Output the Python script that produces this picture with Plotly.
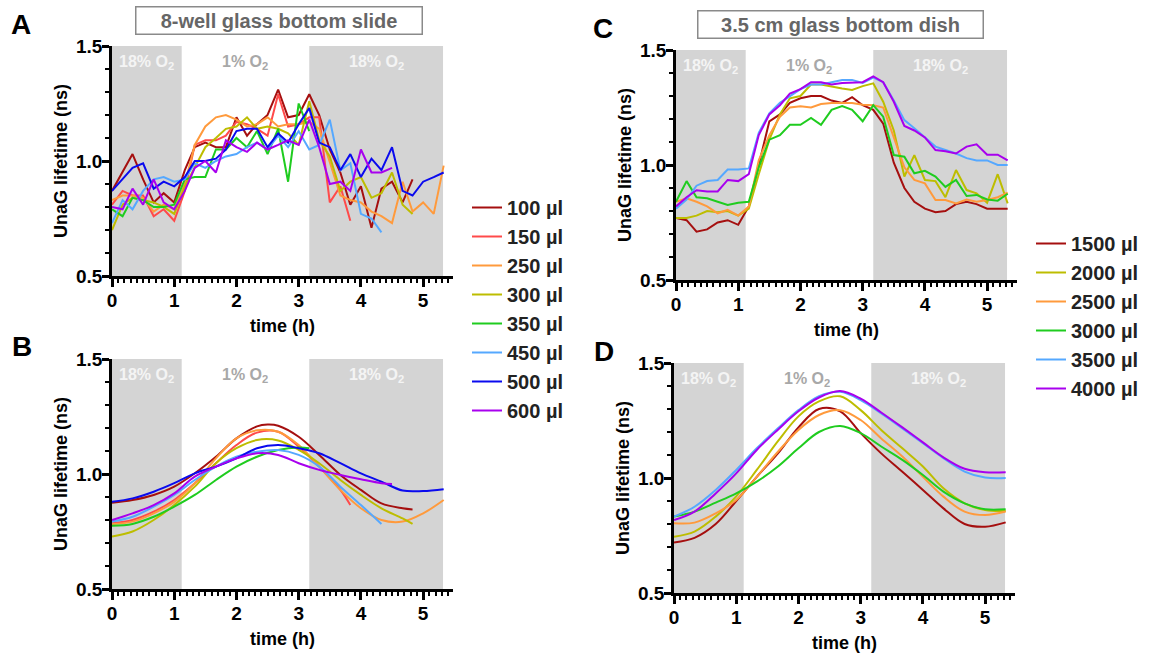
import plotly.graph_objects as go

# ---------------- data ----------------
time_10min = [0.00, 0.17, 0.33, 0.50, 0.67, 0.83, 1.00, 1.17, 1.33, 1.50, 1.67, 1.83,
              2.00, 2.17, 2.33, 2.50, 2.67, 2.83, 3.00, 3.17, 3.33, 3.50, 3.67, 3.83,
              4.00, 4.17, 4.33, 4.50, 4.67, 4.83, 5.00, 5.17, 5.33]

labels_A = ["100 µl", "150 µl", "250 µl", "300 µl", "350 µl", "450 µl", "500 µl", "600 µl"]
colors_A = ["#a50f0f", "#ff4a4a", "#ff9a3c", "#bdbd00", "#1fcc1f", "#55a8ff", "#0a0aee", "#a800ee"]

A_100 = [0.87, 0.95, 1.03, 0.92, 0.82, 0.86, 0.82, 0.96, 1.06, 1.08, 1.06, 1.06, 1.19, 1.11, 1.16,
         1.20, 1.31, 1.19, 1.20, 1.29, 1.20, 1.05, 0.95, 0.81, 0.89, 0.71, 0.88, 0.91, 0.82, 0.92]
A_150 = [0.81, 0.87, 0.85, 0.85, 0.76, 0.79, 0.74, 0.87, 1.07, 1.09, 1.09, 1.11, 1.17, 1.16, 1.14,
         1.11, 1.29, 1.15, 1.16, 1.19, 1.19, 0.82, 0.89, 0.74]
A_250 = [0.83, 0.85, 0.85, 0.84, 0.78, 0.81, 0.79, 0.90, 1.07, 1.15, 1.19, 1.20, 1.18, 1.15, 1.16,
         1.19, 1.15, 1.16, 1.16, 1.17, 1.14, 1.00, 0.85, 0.83, 0.82, 0.78, 0.76, 0.73, 0.91, 0.78,
         0.82, 0.77, 0.98]
A_300 = [0.70, 0.81, 0.84, 0.83, 0.82, 0.80, 0.77, 0.89, 0.97, 1.06, 1.10, 1.14, 1.15, 1.19, 1.14,
         1.15, 1.14, 1.12, 1.07, 1.26, 1.09, 1.02, 0.87, 0.91, 0.93, 0.84, 0.86, 0.95, 0.81, 0.77]
A_350 = [0.79, 0.76, 0.84, 0.83, 0.80, 0.80, 0.81, 0.92, 0.93, 0.93, 1.05, 1.05, 1.10, 1.06, 1.13,
         1.03, 1.14, 0.91, 1.25, 1.13]
A_450 = [0.73, 0.83, 0.79, 0.87, 0.92, 0.93, 0.91, 0.92, 0.99, 0.97, 1.00, 1.02, 1.03, 1.06, 1.08,
         1.05, 1.11, 1.06, 1.13, 1.05, 1.07, 1.18, 0.96, 0.99, 0.77, 0.75, 0.69]
A_500 = [0.87, 0.92, 0.97, 0.99, 0.88, 0.91, 0.89, 0.93, 1.00, 1.00, 1.01, 1.05, 1.13, 1.14, 1.14,
         1.06, 1.12, 1.08, 1.16, 1.23, 1.08, 1.06, 0.96, 1.03, 0.93, 1.01, 0.96, 1.06, 0.87, 0.85,
         0.91, 0.93, 0.95]
A_600 = [0.80, 0.79, 0.88, 0.81, 0.92, 0.82, 0.79, 0.87, 0.97, 1.00, 0.95, 1.09, 1.06, 1.04, 1.08,
         1.05, 1.07, 1.09, 1.07, 1.18, 1.06, 0.90, 0.91, 0.87, 1.05, 0.95, 0.95, 0.97]

# B: smoothed curves (time, value)
B_100_t = [0, 0.33, 0.67, 1.0, 1.33, 1.67, 2.0, 2.33, 2.5, 2.67, 3.0, 3.33, 3.67, 4.0, 4.33, 4.67, 4.83]
B_100 = [0.875, 0.887, 0.909, 0.945, 1.003, 1.075, 1.155, 1.207, 1.215, 1.21, 1.162, 1.083, 0.996,
         0.931, 0.872, 0.851, 0.846]
B_150_t = [0, 0.33, 0.67, 1.0, 1.33, 1.67, 2.0, 2.33, 2.67, 3.0, 3.33, 3.67, 3.83]
B_150 = [0.786, 0.80, 0.836, 0.887, 0.96, 1.047, 1.126, 1.18, 1.184, 1.119, 1.032, 0.931, 0.865]
B_250_t = [0, 0.33, 0.67, 1.0, 1.33, 1.67, 2.0, 2.33, 2.67, 3.0, 3.33, 3.67, 4.0, 4.33, 4.67, 5.0, 5.33]
B_250 = [0.783, 0.793, 0.829, 0.879, 0.96, 1.068, 1.155, 1.19, 1.184, 1.126, 1.032, 0.931, 0.851,
         0.80, 0.793, 0.829, 0.887]
B_300_t = [0, 0.33, 0.67, 1.0, 1.33, 1.67, 2.0, 2.33, 2.67, 3.0, 3.33, 3.67, 4.0, 4.33, 4.67, 4.83]
B_300 = [0.728, 0.75, 0.80, 0.865, 0.945, 1.047, 1.112, 1.148, 1.146, 1.105, 1.047, 0.974, 0.909,
         0.851, 0.807, 0.783]
B_350_t = [0, 0.33, 0.67, 1.0, 1.33, 1.67, 2.0, 2.33, 2.67, 3.0, 3.17]
B_350 = [0.775, 0.783, 0.814, 0.858, 0.909, 0.974, 1.032, 1.075, 1.104, 1.115, 1.112]
B_450_t = [0, 0.33, 0.67, 1.0, 1.33, 1.67, 2.0, 2.33, 2.67, 3.0, 3.33, 3.67, 4.0, 4.33]
B_450 = [0.793, 0.814, 0.858, 0.909, 0.974, 1.032, 1.075, 1.097, 1.104, 1.083, 1.032, 0.945, 0.865, 0.783]
B_500_t = [0, 0.33, 0.67, 1.0, 1.33, 1.67, 2.0, 2.33, 2.67, 3.0, 3.33, 3.67, 4.0, 4.33, 4.67, 5.0, 5.33]
B_500 = [0.879, 0.894, 0.923, 0.96, 1.003, 1.032, 1.068, 1.112, 1.126, 1.112, 1.09, 1.047, 1.003,
         0.967, 0.928, 0.926, 0.934]
B_600_t = [0, 0.33, 0.67, 1.0, 1.33, 1.67, 2.0, 2.33, 2.67, 3.0, 3.33, 3.67, 4.0, 4.33, 4.5]
B_600 = [0.80, 0.829, 0.865, 0.916, 0.989, 1.032, 1.068, 1.09, 1.083, 1.047, 1.018, 0.996, 0.977, 0.96, 0.957]

labels_C = ["1500 µl", "2000 µl", "2500 µl", "3000 µl", "3500 µl", "4000 µl"]
colors_C = ["#a50f0f", "#bdbd00", "#ff9a3c", "#1fcc1f", "#55a8ff", "#a800ee"]

C_1500 = [0.77, 0.76, 0.71, 0.72, 0.75, 0.76, 0.74, 0.82, 1.00, 1.19, 1.22, 1.27, 1.29, 1.30, 1.30,
          1.28, 1.27, 1.295, 1.26, 1.24, 1.18, 1.01, 0.90, 0.84, 0.81, 0.795, 0.80, 0.83, 0.84, 0.83,
          0.81, 0.81, 0.81]
C_2000 = [0.77, 0.77, 0.78, 0.80, 0.795, 0.80, 0.78, 0.81, 0.96, 1.11, 1.22, 1.29, 1.30, 1.35, 1.35,
          1.34, 1.333, 1.326, 1.343, 1.355, 1.275, 1.15, 0.95, 1.043, 0.935, 0.93, 0.86, 0.978, 0.891,
          0.877, 0.836, 0.96, 0.833]
C_2500 = [0.84, 0.855, 0.84, 0.82, 0.79, 0.805, 0.78, 0.82, 1.02, 1.13, 1.21, 1.25, 1.255, 1.25, 1.265,
          1.27, 1.27, 1.27, 1.262, 1.26, 1.25, 1.12, 0.99, 0.935, 0.92, 0.848, 0.848, 0.833, 0.85, 0.84,
          0.848, 0.86, 0.88]
C_3000 = [0.84, 0.93, 0.86, 0.855, 0.84, 0.826, 0.836, 0.84, 0.99, 1.11, 1.13, 1.175, 1.175, 1.205,
          1.175, 1.24, 1.256, 1.24, 1.19, 1.26, 1.21, 1.043, 1.036, 0.964, 0.975, 0.95, 0.905, 0.935,
          0.865, 0.87, 0.85, 0.845, 0.875]
C_3500 = [0.81, 0.85, 0.91, 0.93, 0.935, 0.98, 0.98, 0.985, 1.14, 1.225, 1.27, 1.30, 1.33, 1.35, 1.35,
          1.36, 1.37, 1.37, 1.357, 1.38, 1.36, 1.28, 1.195, 1.16, 1.12, 1.08, 1.065, 1.05, 1.03, 1.02,
          1.02, 1.00, 1.00]
C_4000 = [0.82, 0.86, 0.89, 0.885, 0.885, 0.935, 0.93, 0.96, 1.13, 1.22, 1.26, 1.31, 1.33, 1.36, 1.36,
          1.35, 1.357, 1.357, 1.36, 1.385, 1.36, 1.275, 1.17, 1.15, 1.12, 1.065, 1.06, 1.05, 1.08, 1.09,
          1.045, 1.045, 1.02]

time_smooth = [0, 0.33, 0.67, 1.0, 1.33, 1.67, 2.0, 2.33, 2.67, 3.0, 3.33, 3.67, 4.0, 4.33, 4.67, 5.0, 5.33]
D_1500 = [0.72, 0.74, 0.80, 0.90, 1.005, 1.107, 1.22, 1.30, 1.29, 1.195, 1.107, 1.027, 0.948, 0.868, 0.80, 0.788, 0.807]
D_2000 = [0.745, 0.767, 0.832, 0.92, 1.035, 1.16, 1.268, 1.333, 1.355, 1.295, 1.209, 1.129, 1.05, 0.955, 0.89, 0.861, 0.857]
D_2500 = [0.803, 0.806, 0.846, 0.904, 1.005, 1.114, 1.209, 1.274, 1.295, 1.252, 1.172, 1.093, 1.005, 0.919, 0.854, 0.839, 0.854]
D_3000 = [0.832, 0.854, 0.893, 0.933, 0.984, 1.05, 1.129, 1.20, 1.226, 1.195, 1.137, 1.079, 1.013, 0.941, 0.89, 0.864, 0.864]
D_3500 = [0.832, 0.875, 0.948, 1.035, 1.129, 1.216, 1.295, 1.356, 1.375, 1.339, 1.281, 1.216, 1.151, 1.086, 1.028, 1.002, 1.0]
D_4000 = [0.817, 0.854, 0.933, 1.02, 1.122, 1.21, 1.29, 1.35, 1.378, 1.345, 1.285, 1.22, 1.155, 1.09, 1.04, 1.025, 1.025]

# oxygen phases (h)
phase_edges = [0.0, 1.12, 3.17, 5.32]
phase_labels = ["18% O<sub>2</sub>", "1% O<sub>2</sub>", "18% O<sub>2</sub>"]
phase_label_x = [0.56, 2.13, 4.25]

# ---------------- figure ----------------
W, H = 1152, 654
FONT = "Arial, Liberation Sans, sans-serif"
fig = go.Figure()

A_series = [A_100, A_150, A_250, A_300, A_350, A_450, A_500, A_600]
for lab, col, vals in zip(labels_A, colors_A, A_series):
    fig.add_trace(go.Scatter(x=time_10min[:len(vals)], y=vals, mode="lines", name=lab,
                             line=dict(color=col, width=2), xaxis="x", yaxis="y",
                             legend="legend"))

B_series = [(B_100_t, B_100), (B_150_t, B_150), (B_250_t, B_250), (B_300_t, B_300),
            (B_350_t, B_350), (B_450_t, B_450), (B_500_t, B_500), (B_600_t, B_600)]
for lab, col, (tt, vals) in zip(labels_A, colors_A, B_series):
    fig.add_trace(go.Scatter(x=tt, y=vals, mode="lines", name=lab, showlegend=False,
                             line=dict(color=col, width=2, shape="spline", smoothing=1.0),
                             xaxis="x2", yaxis="y2"))

C_series = [C_1500, C_2000, C_2500, C_3000, C_3500, C_4000]
for lab, col, vals in zip(labels_C, colors_C, C_series):
    fig.add_trace(go.Scatter(x=time_10min[:len(vals)], y=vals, mode="lines", name=lab,
                             line=dict(color=col, width=2), xaxis="x3", yaxis="y3",
                             legend="legend2"))

D_series = [D_1500, D_2000, D_2500, D_3000, D_3500, D_4000]
for lab, col, vals in zip(labels_C, colors_C, D_series):
    fig.add_trace(go.Scatter(x=time_smooth, y=vals, mode="lines", name=lab, showlegend=False,
                             line=dict(color=col, width=2, shape="spline", smoothing=1.0),
                             xaxis="x4", yaxis="y4"))


def px_x(p):
    return p / W


def px_y(p):
    return 1 - p / H


tickfont = dict(family=FONT, size=19, color="black", weight="bold")
titlefont = dict(family=FONT, size=18, color="black", weight="bold")


def xax(x0, x1, anchor):
    return dict(domain=[px_x(x0), px_x(x1)], range=[0, 5.48], anchor=anchor,
                showline=True, linecolor="black", linewidth=2.5,
                ticks="outside", ticklen=8, tickwidth=2.5, tickcolor="black",
                dtick=1, tick0=0, showgrid=False, zeroline=False, tickfont=tickfont,
                automargin=False, ticklabelstandoff=-3,
                minor=dict(dtick=0.1, tick0=0, ticks="outside", ticklen=4, tickwidth=1.5,
                           tickcolor="black", showgrid=False),
                title=dict(text="time (h)", font=titlefont, standoff=10))


def yax(y0, y1, anchor):
    return dict(domain=[px_y(y1), px_y(y0)], range=[0.5, 1.5], anchor=anchor,
                showline=True, linecolor="black", linewidth=2.5,
                ticks="outside", ticklen=7, tickwidth=2.5, tickcolor="black",
                dtick=0.5, tick0=0.5, tickformat=".1f", showgrid=False, zeroline=False,
                tickfont=tickfont, automargin=False, ticklabelstandoff=-4,
                minor=dict(dtick=0.1, tick0=0.5, ticks="outside", ticklen=4, tickwidth=1.5,
                           tickcolor="black", showgrid=False),
                title=dict(text="UnaG lifetime (ns)", font=titlefont, standoff=4))


fig.update_layout(
    width=W, height=H, margin=dict(l=0, r=0, t=0, b=0, pad=0, autoexpand=False),
    paper_bgcolor="white", plot_bgcolor="white",
    font=dict(family=FONT),
    xaxis=xax(112, 453, "y"), yaxis=yax(46, 276, "x"),
    xaxis2=xax(112, 453, "y2"), yaxis2=yax(359, 589, "x2"),
    xaxis3=xax(676, 1017, "y3"), yaxis3=yax(50, 280, "x3"),
    xaxis4=xax(674, 1015, "y4"), yaxis4=yax(363, 593, "x4"),
    legend=dict(x=px_x(467), y=px_y(188), xanchor="left", yanchor="top",
                font=dict(family=FONT, size=20, color="#222222", weight="bold"),
                bgcolor="rgba(0,0,0,0)", tracegroupgap=0, itemwidth=30),
    legend2=dict(x=px_x(1031), y=px_y(224), xanchor="left", yanchor="top",
                 font=dict(family=FONT, size=20, color="#222222", weight="bold"),
                 bgcolor="rgba(0,0,0,0)", tracegroupgap=0, itemwidth=30),
)

shapes = []
annotations = []
for xa, ya in [("x", "y"), ("x2", "y2"), ("x3", "y3"), ("x4", "y4")]:
    for i0, i1 in [(0, 1), (2, 3)]:
        shapes.append(dict(type="rect", xref=xa, yref=ya, x0=phase_edges[i0], x1=phase_edges[i1],
                           y0=0.5, y1=1.5, fillcolor="#d4d4d4", line=dict(width=0), layer="below"))
    for j, (lab, lx) in enumerate(zip(phase_labels, phase_label_x)):
        annotations.append(dict(x=lx, y=1.43, xref=xa, yref=ya, text=lab, showarrow=False,
                                xanchor="center", yanchor="middle",
                                font=dict(family=FONT, size=16, weight="bold",
                                          color="#a8a8a8" if j == 1 else "#f4f4f4")))

# panel letters
for letter, lx, ly in [("A", 21, 25), ("B", 22, 346), ("C", 603, 29), ("D", 604, 352)]:
    annotations.append(dict(x=px_x(lx), y=px_y(ly), xref="paper", yref="paper", text=letter,
                            showarrow=False, xanchor="center", yanchor="middle",
                            font=dict(family=FONT, size=28, color="black", weight="bold")))

# boxed panel titles
for txt, cx, cy, bw in [("8-well glass bottom slide", 278.5, 20.5, 283),
                        ("3.5 cm glass bottom dish", 840, 25, 282)]:
    annotations.append(dict(x=px_x(cx), y=px_y(cy), xref="paper", yref="paper", text=txt,
                            showarrow=False, width=bw, height=24, borderpad=1,
                            xanchor="center", yanchor="middle",
                            bordercolor="#8a8a8a", borderwidth=1.5,
                            font=dict(family=FONT, size=20, color="#666666", weight="bold")))

fig.update_layout(shapes=shapes, annotations=annotations)
fig.write_html("out.html", config={"displayModeBar": False},
               post_script="document.body.style.margin='0';document.body.style.padding='0';")
